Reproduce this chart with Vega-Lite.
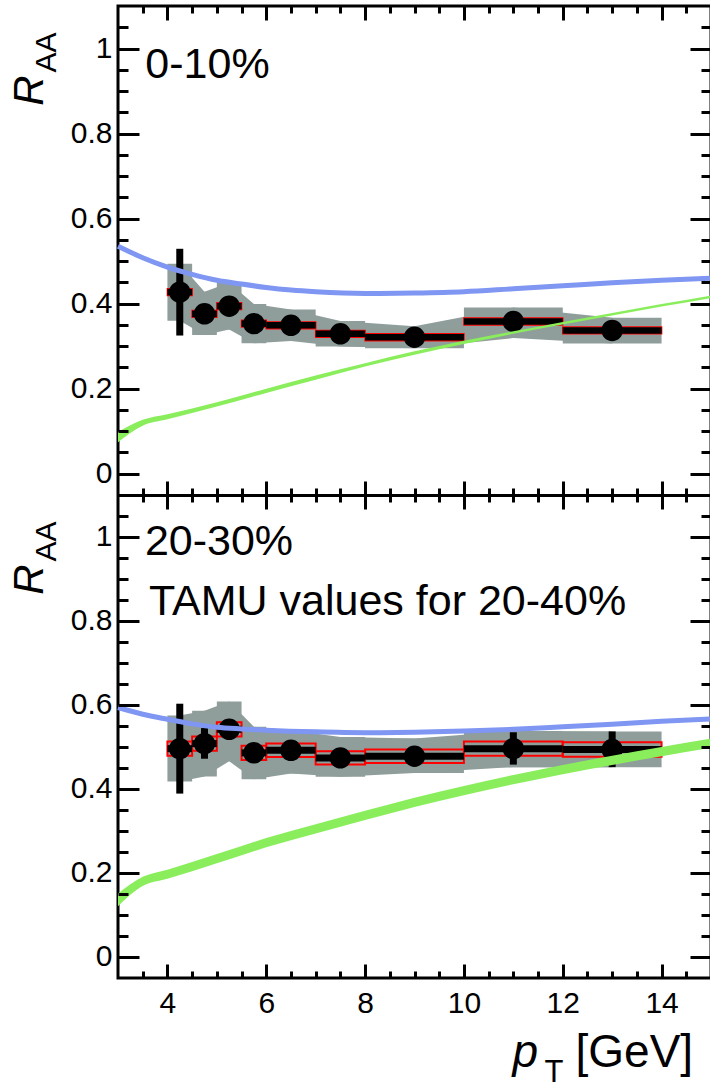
{
  "$schema": "https://vega.github.io/schema/vega-lite/v6.json",
  "width": 593,
  "height": 972,
  "autosize": {"type": "none"},
  "padding": {"left": 118, "top": 6, "right": 0, "bottom": 111},
  "background": "white",
  "config": {
    "view": {"stroke": "black", "strokeWidth": 3},
    "font": "Liberation Sans",
    "axis": {"grid": false, "zindex": 1}
  },
  "datasets": {
    "raa_0_10": [
      {"pt": 4.25, "pt_lo": 4, "pt_hi": 4.5, "raa": 0.427, "stat_lo": 0.325, "stat_hi": 0.529, "sys_lo": 0.36, "sys_hi": 0.494, "box_lo": 0.419, "box_hi": 0.435},
      {"pt": 4.75, "pt_lo": 4.5, "pt_hi": 5, "raa": 0.376, "stat_lo": 0.356, "stat_hi": 0.396, "sys_lo": 0.326, "sys_hi": 0.428, "box_lo": 0.368, "box_hi": 0.384},
      {"pt": 5.25, "pt_lo": 5, "pt_hi": 5.5, "raa": 0.394, "stat_lo": 0.374, "stat_hi": 0.414, "sys_lo": 0.339, "sys_hi": 0.449, "box_lo": 0.386, "box_hi": 0.402},
      {"pt": 5.75, "pt_lo": 5.5, "pt_hi": 6, "raa": 0.353, "stat_lo": 0.338, "stat_hi": 0.368, "sys_lo": 0.307, "sys_hi": 0.399, "box_lo": 0.345, "box_hi": 0.361},
      {"pt": 6.5, "pt_lo": 6, "pt_hi": 7, "raa": 0.349, "stat_lo": 0.337, "stat_hi": 0.361, "sys_lo": 0.312, "sys_hi": 0.386, "box_lo": 0.341, "box_hi": 0.357},
      {"pt": 7.5, "pt_lo": 7, "pt_hi": 8, "raa": 0.329, "stat_lo": 0.317, "stat_hi": 0.341, "sys_lo": 0.299, "sys_hi": 0.359, "box_lo": 0.321, "box_hi": 0.337},
      {"pt": 9, "pt_lo": 8, "pt_hi": 10, "raa": 0.321, "stat_lo": 0.309, "stat_hi": 0.333, "sys_lo": 0.295, "sys_hi": 0.347, "box_lo": 0.313, "box_hi": 0.329},
      {"pt": 11, "pt_lo": 10, "pt_hi": 12, "raa": 0.358, "stat_lo": 0.343, "stat_hi": 0.373, "sys_lo": 0.319, "sys_hi": 0.391, "box_lo": 0.35, "box_hi": 0.366},
      {"pt": 13, "pt_lo": 12, "pt_hi": 14, "raa": 0.337, "stat_lo": 0.318, "stat_hi": 0.356, "sys_lo": 0.306, "sys_hi": 0.367, "box_lo": 0.329, "box_hi": 0.345}
    ],
    "raa_20_30": [
      {"pt": 4.25, "pt_lo": 4, "pt_hi": 4.5, "raa": 0.496, "stat_lo": 0.389, "stat_hi": 0.603, "sys_lo": 0.418, "sys_hi": 0.575, "box_lo": 0.479, "box_hi": 0.513},
      {"pt": 4.75, "pt_lo": 4.5, "pt_hi": 5, "raa": 0.508, "stat_lo": 0.472, "stat_hi": 0.545, "sys_lo": 0.43, "sys_hi": 0.586, "box_lo": 0.491, "box_hi": 0.525},
      {"pt": 5.25, "pt_lo": 5, "pt_hi": 5.5, "raa": 0.542, "stat_lo": 0.522, "stat_hi": 0.562, "sys_lo": 0.466, "sys_hi": 0.608, "box_lo": 0.525, "box_hi": 0.559},
      {"pt": 5.75, "pt_lo": 5.5, "pt_hi": 6, "raa": 0.486, "stat_lo": 0.466, "stat_hi": 0.506, "sys_lo": 0.423, "sys_hi": 0.548, "box_lo": 0.469, "box_hi": 0.503},
      {"pt": 6.5, "pt_lo": 6, "pt_hi": 7, "raa": 0.492, "stat_lo": 0.474, "stat_hi": 0.51, "sys_lo": 0.437, "sys_hi": 0.54, "box_lo": 0.476, "box_hi": 0.508},
      {"pt": 7.5, "pt_lo": 7, "pt_hi": 8, "raa": 0.474, "stat_lo": 0.456, "stat_hi": 0.492, "sys_lo": 0.429, "sys_hi": 0.524, "box_lo": 0.458, "box_hi": 0.49},
      {"pt": 9, "pt_lo": 8, "pt_hi": 10, "raa": 0.478, "stat_lo": 0.46, "stat_hi": 0.496, "sys_lo": 0.438, "sys_hi": 0.52, "box_lo": 0.462, "box_hi": 0.494},
      {"pt": 11, "pt_lo": 10, "pt_hi": 12, "raa": 0.496, "stat_lo": 0.458, "stat_hi": 0.535, "sys_lo": 0.452, "sys_hi": 0.538, "box_lo": 0.479, "box_hi": 0.513},
      {"pt": 13, "pt_lo": 12, "pt_hi": 14, "raa": 0.494, "stat_lo": 0.452, "stat_hi": 0.537, "sys_lo": 0.452, "sys_hi": 0.537, "box_lo": 0.477, "box_hi": 0.511}
    ],
    "model_a_0_10": [
      {"pt": 3, "raa": 0.535}, {"pt": 3.5, "raa": 0.508}, {"pt": 4, "raa": 0.486}, {"pt": 4.5, "raa": 0.469},
      {"pt": 5, "raa": 0.455}, {"pt": 5.5, "raa": 0.446}, {"pt": 6, "raa": 0.438}, {"pt": 6.5, "raa": 0.432},
      {"pt": 7, "raa": 0.428}, {"pt": 8, "raa": 0.424}, {"pt": 9, "raa": 0.425}, {"pt": 10, "raa": 0.428},
      {"pt": 11, "raa": 0.435}, {"pt": 12, "raa": 0.442}, {"pt": 13, "raa": 0.449}, {"pt": 14, "raa": 0.455},
      {"pt": 15, "raa": 0.46}
    ],
    "model_a_20_30": [
      {"pt": 3, "raa": 0.594}, {"pt": 3.5, "raa": 0.578}, {"pt": 4, "raa": 0.566}, {"pt": 4.5, "raa": 0.555},
      {"pt": 5, "raa": 0.547}, {"pt": 5.5, "raa": 0.543}, {"pt": 6, "raa": 0.54}, {"pt": 7, "raa": 0.536},
      {"pt": 8, "raa": 0.534}, {"pt": 9, "raa": 0.535}, {"pt": 10, "raa": 0.538}, {"pt": 11, "raa": 0.542},
      {"pt": 12, "raa": 0.548}, {"pt": 13, "raa": 0.554}, {"pt": 14, "raa": 0.561}, {"pt": 15, "raa": 0.567}
    ],
    "model_b_0_10": [
      {"pt": 3, "lo": 0.074, "hi": 0.098}, {"pt": 3.5, "lo": 0.113, "hi": 0.127}, {"pt": 4, "lo": 0.128, "hi": 0.14},
      {"pt": 5, "lo": 0.158, "hi": 0.168}, {"pt": 6, "lo": 0.19, "hi": 0.2}, {"pt": 7, "lo": 0.221, "hi": 0.231},
      {"pt": 8, "lo": 0.252, "hi": 0.26}, {"pt": 9, "lo": 0.28, "hi": 0.288}, {"pt": 10, "lo": 0.305, "hi": 0.313},
      {"pt": 11, "lo": 0.329, "hi": 0.335}, {"pt": 12, "lo": 0.351, "hi": 0.357}, {"pt": 13, "lo": 0.372, "hi": 0.378},
      {"pt": 14, "lo": 0.393, "hi": 0.399}, {"pt": 15, "lo": 0.413, "hi": 0.419}
    ],
    "model_b_20_30": [
      {"pt": 3, "lo": 0.121, "hi": 0.151}, {"pt": 3.5, "lo": 0.169, "hi": 0.191}, {"pt": 4, "lo": 0.186, "hi": 0.208},
      {"pt": 5, "lo": 0.223, "hi": 0.245}, {"pt": 6, "lo": 0.261, "hi": 0.283}, {"pt": 7, "lo": 0.294, "hi": 0.316},
      {"pt": 8, "lo": 0.326, "hi": 0.348}, {"pt": 9, "lo": 0.357, "hi": 0.379}, {"pt": 10, "lo": 0.385, "hi": 0.407},
      {"pt": 11, "lo": 0.411, "hi": 0.433}, {"pt": 12, "lo": 0.435, "hi": 0.457}, {"pt": 13, "lo": 0.457, "hi": 0.479},
      {"pt": 14, "lo": 0.478, "hi": 0.5}, {"pt": 15, "lo": 0.498, "hi": 0.52}
    ]
  },
  "resolve": {"scale": {"y": "independent"}, "axis": {"x": "independent", "y": "independent"}},
  "layer": [
    {
      "data": {"name": "raa_0_10"},
      "mark": {"type": "rect", "color": "#8f9e9b"},
      "encoding": {
        "x": {"field": "pt_lo", "type": "quantitative", "scale": {"domain": [3, 15], "nice": false, "zero": false},
          "axis": {"orient": "top", "values": [3.5,4,4.5,5,5.5,6,6.5,7,7.5,8,8.5,9,9.5,10,10.5,11,11.5,12,12.5,13,13.5,14,14.5],
            "tickSize": {"condition": {"test": "abs(datum.value/2 - round(datum.value/2)) < 0.001", "value": -14}, "value": -7},
            "tickWidth": 3, "tickColor": "black", "labels": false, "domain": false, "grid": false, "title": null, "zindex": 1}},
        "x2": {"field": "pt_hi"},
        "y": {"field": "sys_lo", "type": "quantitative", "scale": {"domain": [-1.186, 1.1], "nice": false, "zero": false},
          "axis": {"orient": "left", "values": [0,0.05,0.1,0.15,0.2,0.25,0.3,0.35,0.4,0.45,0.5,0.55,0.6,0.65,0.7,0.75,0.8,0.85,0.9,0.95,1,1.05],
            "format": "~g", "labelExpr": "abs(datum.value*5 - round(datum.value*5)) < 0.001 ? datum.label : ''",
            "tickSize": {"condition": {"test": "abs(datum.value*5 - round(datum.value*5)) < 0.001", "value": -21}, "value": -10},
            "tickWidth": 3, "tickColor": "black", "labelPadding": 27, "labelFont": "Liberation Sans", "labelFontSize": 30,
            "labelColor": "black", "labelFlush": false, "labelOverlap": false, "domain": false, "grid": false,
            "title": "R", "titleFont": "Liberation Sans", "titleFontSize": 42, "titleFontStyle": "italic", "titleFontWeight": "normal",
            "titleColor": "black", "titleAngle": 270, "titleAlign": "center", "titleBaseline": "alphabetic", "titleX": -76, "titleY": 84, "zindex": 1}},
        "y2": {"field": "sys_hi"}
      }
    },
    {
      "data": {"name": "raa_0_10"},
      "mark": {"type": "area", "color": "#8f9e9b", "interpolate": "linear"},
      "encoding": {
        "x": {"field": "pt", "type": "quantitative", "scale": {"domain": [3, 15], "nice": false, "zero": false},
          "axis": {"orient": "bottom", "offset": -483, "values": [3.5,4,4.5,5,5.5,6,6.5,7,7.5,8,8.5,9,9.5,10,10.5,11,11.5,12,12.5,13,13.5,14,14.5],
            "tickSize": {"condition": {"test": "abs(datum.value/2 - round(datum.value/2)) < 0.001", "value": -14}, "value": -7},
            "tickWidth": 3, "tickColor": "black", "labels": false, "domain": true, "domainColor": "black", "domainWidth": 3,
            "grid": false, "title": null, "zindex": 1}},
        "y": {"field": "sys_lo", "type": "quantitative", "scale": {"domain": [-1.186, 1.1], "nice": false, "zero": false},
          "axis": {"orient": "left", "ticks": false, "labels": false, "domain": false, "grid": false,
            "title": "AA", "titleFont": "Liberation Sans", "titleFontSize": 30, "titleFontStyle": "normal", "titleFontWeight": "normal",
            "titleColor": "black", "titleAngle": 270, "titleAlign": "center", "titleBaseline": "alphabetic", "titleX": -63, "titleY": 46, "zindex": 1}},
        "y2": {"field": "sys_hi"}
      }
    },
    {
      "data": {"name": "raa_0_10"},
      "mark": {"type": "rect", "filled": false, "stroke": "#ff0000", "strokeWidth": 1.5},
      "encoding": {
        "x": {"field": "pt_lo", "type": "quantitative", "scale": {"domain": [3, 15], "nice": false, "zero": false}, "axis": null},
        "x2": {"field": "pt_hi"},
        "y": {"field": "box_lo", "type": "quantitative", "scale": {"domain": [-1.186, 1.1], "nice": false, "zero": false},
          "axis": {"orient": "right", "values": [0,0.05,0.1,0.15,0.2,0.25,0.3,0.35,0.4,0.45,0.5,0.55,0.6,0.65,0.7,0.75,0.8,0.85,0.9,0.95,1,1.05],
            "tickSize": {"condition": {"test": "abs(datum.value*5 - round(datum.value*5)) < 0.001", "value": -21}, "value": -10},
            "tickWidth": 3, "tickColor": "black", "labels": false, "domain": false, "grid": false, "title": null, "zindex": 1}},
        "y2": {"field": "box_hi"}
      }
    },
    {
      "data": {"name": "raa_0_10"},
      "mark": {"type": "rule", "color": "black", "strokeWidth": 6.5},
      "encoding": {
        "x": {"field": "pt_lo", "type": "quantitative", "scale": {"domain": [3, 15], "nice": false, "zero": false}, "axis": null},
        "x2": {"field": "pt_hi"},
        "y": {"field": "raa", "type": "quantitative", "scale": {"domain": [-1.186, 1.1], "nice": false, "zero": false}, "axis": null}
      }
    },
    {
      "data": {"name": "raa_0_10"},
      "mark": {"type": "rule", "color": "black", "strokeWidth": 7},
      "encoding": {
        "x": {"field": "pt", "type": "quantitative", "scale": {"domain": [3, 15], "nice": false, "zero": false}, "axis": null},
        "y": {"field": "stat_lo", "type": "quantitative", "scale": {"domain": [-1.186, 1.1], "nice": false, "zero": false}, "axis": null},
        "y2": {"field": "stat_hi"}
      }
    },
    {
      "data": {"name": "raa_0_10"},
      "mark": {"type": "point", "filled": true, "shape": "circle", "size": 460, "color": "black", "opacity": 1},
      "encoding": {
        "x": {"field": "pt", "type": "quantitative", "scale": {"domain": [3, 15], "nice": false, "zero": false}, "axis": null},
        "y": {"field": "raa", "type": "quantitative", "scale": {"domain": [-1.186, 1.1], "nice": false, "zero": false}, "axis": null}
      }
    },
    {
      "data": {"name": "model_a_0_10"},
      "mark": {"type": "line", "color": "#7f96f2", "strokeWidth": 5, "interpolate": "monotone"},
      "encoding": {
        "x": {"field": "pt", "type": "quantitative", "scale": {"domain": [3, 15], "nice": false, "zero": false}, "axis": null},
        "y": {"field": "raa", "type": "quantitative", "scale": {"domain": [-1.186, 1.1], "nice": false, "zero": false}, "axis": null}
      }
    },
    {
      "data": {"name": "model_b_0_10"},
      "mark": {"type": "area", "color": "#8aee5c", "interpolate": "monotone"},
      "encoding": {
        "x": {"field": "pt", "type": "quantitative", "scale": {"domain": [3, 15], "nice": false, "zero": false}, "axis": null},
        "y": {"field": "lo", "type": "quantitative", "scale": {"domain": [-1.186, 1.1], "nice": false, "zero": false}, "axis": null},
        "y2": {"field": "hi"}
      }
    },
    {
      "data": {"name": "raa_20_30"},
      "mark": {"type": "rect", "color": "#8f9e9b"},
      "encoding": {
        "x": {"field": "pt_lo", "type": "quantitative", "scale": {"domain": [3, 15], "nice": false, "zero": false},
          "axis": {"orient": "bottom", "values": [3.5,4,4.5,5,5.5,6,6.5,7,7.5,8,8.5,9,9.5,10,10.5,11,11.5,12,12.5,13,13.5,14,14.5],
            "format": "~g", "labelExpr": "abs(datum.value/2 - round(datum.value/2)) < 0.001 ? datum.label : ''",
            "tickSize": {"condition": {"test": "abs(datum.value/2 - round(datum.value/2)) < 0.001", "value": -14}, "value": -7},
            "tickWidth": 3, "tickColor": "black", "labelPadding": 24, "labelFont": "Liberation Sans", "labelFontSize": 30,
            "labelColor": "black", "labelFlush": false, "labelOverlap": false, "domain": false, "grid": false,
            "title": "[GeV]", "titleFont": "Liberation Sans", "titleFontSize": 46, "titleFontStyle": "normal", "titleFontWeight": "normal",
            "titleColor": "black", "titleAngle": 0, "titleAlign": "left", "titleBaseline": "alphabetic", "titleX": 457, "titleY": 88, "zindex": 1}},
        "x2": {"field": "pt_hi"},
        "y": {"field": "sys_lo", "type": "quantitative", "scale": {"domain": [-0.05, 2.264], "nice": false, "zero": false},
          "axis": {"orient": "left", "values": [0,0.05,0.1,0.15,0.2,0.25,0.3,0.35,0.4,0.45,0.5,0.55,0.6,0.65,0.7,0.75,0.8,0.85,0.9,0.95,1,1.05],
            "format": "~g", "labelExpr": "abs(datum.value*5 - round(datum.value*5)) < 0.001 ? datum.label : ''",
            "tickSize": {"condition": {"test": "abs(datum.value*5 - round(datum.value*5)) < 0.001", "value": -21}, "value": -10},
            "tickWidth": 3, "tickColor": "black", "labelPadding": 27, "labelFont": "Liberation Sans", "labelFontSize": 30,
            "labelColor": "black", "labelFlush": false, "labelOverlap": false, "domain": false, "grid": false,
            "title": "R", "titleFont": "Liberation Sans", "titleFontSize": 42, "titleFontStyle": "italic", "titleFontWeight": "normal",
            "titleColor": "black", "titleAngle": 270, "titleAlign": "center", "titleBaseline": "alphabetic", "titleX": -76, "titleY": 573, "zindex": 1}},
        "y2": {"field": "sys_hi"}
      }
    },
    {
      "data": {"name": "raa_20_30"},
      "mark": {"type": "area", "color": "#8f9e9b", "interpolate": "linear"},
      "encoding": {
        "x": {"field": "pt", "type": "quantitative", "scale": {"domain": [3, 15], "nice": false, "zero": false},
          "axis": {"orient": "top", "offset": -489, "values": [3.5,4,4.5,5,5.5,6,6.5,7,7.5,8,8.5,9,9.5,10,10.5,11,11.5,12,12.5,13,13.5,14,14.5],
            "tickSize": {"condition": {"test": "abs(datum.value/2 - round(datum.value/2)) < 0.001", "value": -14}, "value": -7},
            "tickWidth": 3, "tickColor": "black", "labels": false, "domain": false, "grid": false, "title": null, "zindex": 1}},
        "y": {"field": "sys_lo", "type": "quantitative", "scale": {"domain": [-0.05, 2.264], "nice": false, "zero": false},
          "axis": {"orient": "left", "ticks": false, "labels": false, "domain": false, "grid": false,
            "title": "AA", "titleFont": "Liberation Sans", "titleFontSize": 30, "titleFontStyle": "normal", "titleFontWeight": "normal",
            "titleColor": "black", "titleAngle": 270, "titleAlign": "center", "titleBaseline": "alphabetic", "titleX": -63, "titleY": 535, "zindex": 1}},
        "y2": {"field": "sys_hi"}
      }
    },
    {
      "data": {"name": "raa_20_30"},
      "mark": {"type": "rect", "filled": false, "stroke": "#ff0000", "strokeWidth": 2},
      "encoding": {
        "x": {"field": "pt_lo", "type": "quantitative", "scale": {"domain": [3, 15], "nice": false, "zero": false},
          "axis": {"orient": "bottom", "ticks": false, "labels": false, "domain": false, "grid": false,
            "title": "p", "titleFont": "Liberation Sans", "titleFontSize": 46, "titleFontStyle": "italic", "titleFontWeight": "normal",
            "titleColor": "black", "titleAngle": 0, "titleAlign": "left", "titleBaseline": "alphabetic", "titleX": 394, "titleY": 88, "zindex": 1}},
        "x2": {"field": "pt_hi"},
        "y": {"field": "box_lo", "type": "quantitative", "scale": {"domain": [-0.05, 2.264], "nice": false, "zero": false},
          "axis": {"orient": "right", "values": [0,0.05,0.1,0.15,0.2,0.25,0.3,0.35,0.4,0.45,0.5,0.55,0.6,0.65,0.7,0.75,0.8,0.85,0.9,0.95,1,1.05],
            "tickSize": {"condition": {"test": "abs(datum.value*5 - round(datum.value*5)) < 0.001", "value": -21}, "value": -10},
            "tickWidth": 3, "tickColor": "black", "labels": false, "domain": false, "grid": false, "title": null, "zindex": 1}},
        "y2": {"field": "box_hi"}
      }
    },
    {
      "data": {"name": "raa_20_30"},
      "mark": {"type": "rule", "color": "black", "strokeWidth": 7},
      "encoding": {
        "x": {"field": "pt_lo", "type": "quantitative", "scale": {"domain": [3, 15], "nice": false, "zero": false},
          "axis": {"orient": "bottom", "ticks": false, "labels": false, "domain": false, "grid": false,
            "title": "T", "titleFont": "Liberation Sans", "titleFontSize": 31, "titleFontStyle": "normal", "titleFontWeight": "normal",
            "titleColor": "black", "titleAngle": 0, "titleAlign": "left", "titleBaseline": "alphabetic", "titleX": 426, "titleY": 103, "zindex": 1}},
        "x2": {"field": "pt_hi"},
        "y": {"field": "raa", "type": "quantitative", "scale": {"domain": [-0.05, 2.264], "nice": false, "zero": false}, "axis": null}
      }
    },
    {
      "data": {"name": "raa_20_30"},
      "mark": {"type": "rule", "color": "black", "strokeWidth": 7},
      "encoding": {
        "x": {"field": "pt", "type": "quantitative", "scale": {"domain": [3, 15], "nice": false, "zero": false}, "axis": null},
        "y": {"field": "stat_lo", "type": "quantitative", "scale": {"domain": [-0.05, 2.264], "nice": false, "zero": false}, "axis": null},
        "y2": {"field": "stat_hi"}
      }
    },
    {
      "data": {"name": "raa_20_30"},
      "mark": {"type": "point", "filled": true, "shape": "circle", "size": 460, "color": "black", "opacity": 1},
      "encoding": {
        "x": {"field": "pt", "type": "quantitative", "scale": {"domain": [3, 15], "nice": false, "zero": false}, "axis": null},
        "y": {"field": "raa", "type": "quantitative", "scale": {"domain": [-0.05, 2.264], "nice": false, "zero": false}, "axis": null}
      }
    },
    {
      "data": {"name": "model_a_20_30"},
      "mark": {"type": "line", "color": "#7f96f2", "strokeWidth": 5, "interpolate": "monotone"},
      "encoding": {
        "x": {"field": "pt", "type": "quantitative", "scale": {"domain": [3, 15], "nice": false, "zero": false}, "axis": null},
        "y": {"field": "raa", "type": "quantitative", "scale": {"domain": [-0.05, 2.264], "nice": false, "zero": false}, "axis": null}
      }
    },
    {
      "data": {"name": "model_b_20_30"},
      "mark": {"type": "area", "color": "#8aee5c", "interpolate": "monotone"},
      "encoding": {
        "x": {"field": "pt", "type": "quantitative", "scale": {"domain": [3, 15], "nice": false, "zero": false}, "axis": null},
        "y": {"field": "lo", "type": "quantitative", "scale": {"domain": [-0.05, 2.264], "nice": false, "zero": false}, "axis": null},
        "y2": {"field": "hi"}
      }
    },
    {
      "data": {"values": [{"label": "0-10%"}]},
      "mark": {"type": "text", "font": "Liberation Sans", "fontSize": 43, "align": "left", "baseline": "alphabetic", "color": "black"},
      "encoding": {
        "text": {"field": "label", "type": "nominal"},
        "x": {"datum": 3.553, "type": "quantitative", "scale": {"domain": [3, 15], "nice": false, "zero": false}, "axis": null},
        "y": {"datum": 0.931, "type": "quantitative", "scale": {"domain": [-1.186, 1.1], "nice": false, "zero": false}, "axis": null}
      }
    },
    {
      "data": {"values": [{"label": "20-30%"}]},
      "mark": {"type": "text", "font": "Liberation Sans", "fontSize": 43, "align": "left", "baseline": "alphabetic", "color": "black"},
      "encoding": {
        "text": {"field": "label", "type": "nominal"},
        "x": {"datum": 3.544, "type": "quantitative", "scale": {"domain": [3, 15], "nice": false, "zero": false}, "axis": null},
        "y": {"datum": 0.957, "type": "quantitative", "scale": {"domain": [-0.05, 2.264], "nice": false, "zero": false}, "axis": null}
      }
    },
    {
      "data": {"values": [{"label": "TAMU values for 20-40%"}]},
      "mark": {"type": "text", "font": "Liberation Sans", "fontSize": 43, "align": "left", "baseline": "alphabetic", "color": "black"},
      "encoding": {
        "text": {"field": "label", "type": "nominal"},
        "x": {"datum": 3.627, "type": "quantitative", "scale": {"domain": [3, 15], "nice": false, "zero": false}, "axis": null},
        "y": {"datum": 0.814, "type": "quantitative", "scale": {"domain": [-0.05, 2.264], "nice": false, "zero": false}, "axis": null}
      }
    }
  ]
}
